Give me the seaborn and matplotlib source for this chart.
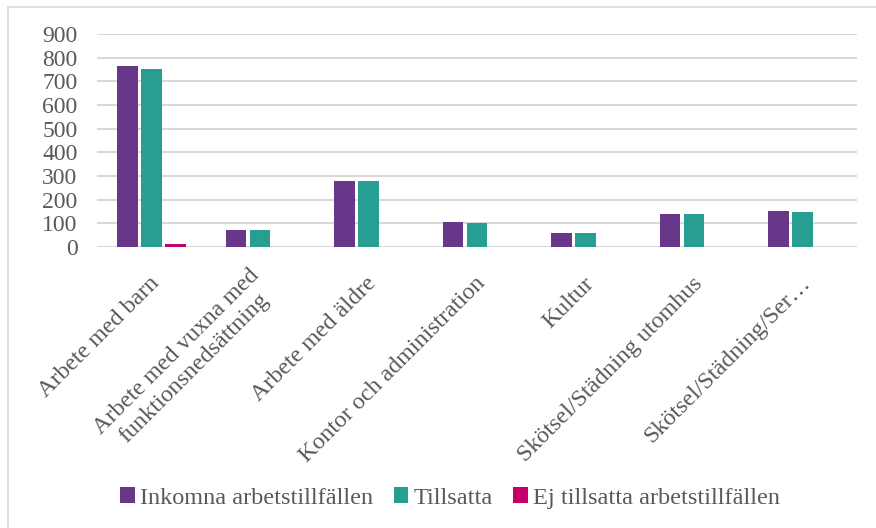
import pandas as pd
import seaborn as sns
from matplotlib import pyplot as plt
from matplotlib.patches import Rectangle
from matplotlib.transforms import ScaledTranslation

# Värden
kategorier = ['Arbete med barn', 'Arbete med vuxna med\nfunktionsnedsättning', 'Arbete med äldre',
              'Kontor och administration', 'Kultur', 'Skötsel/Städning utomhus', 'Skötsel/Städning/Ser…']
inkomna = [765, 72, 277, 107, 60, 141, 154]
tillsatta = [752, 72, 277, 103, 60, 141, 150]
ej_tillsatta = [12, 0, 0, 0, 0, 0, 0]
serier = ['Inkomna arbetstillfällen', 'Tillsatta', 'Ej tillsatta arbetstillfällen']
farger = ['#68378a', '#279e92', '#c6006a']
y_ticks = [0, 100, 200, 300, 400, 500, 600, 700, 800, 900]

rows = []
for serie, values in zip(serier, [inkomna, tillsatta, ej_tillsatta]):
    for kat, v in zip(kategorier, values):
        rows.append({'kategori': kat, 'serie': serie, 'antal': v})
df = pd.DataFrame(rows)

sns.set_style('white')
plt.rcParams['font.family'] = ['Liberation Serif', 'DejaVu Serif']
text_color = '#595959'

fig = plt.figure(figsize=(8.76, 5.28), dpi=100)
ax = fig.add_axes([97 / 876, 1 - 247 / 528, (857 - 97) / 876, (247 - 34) / 528])

sns.barplot(data=df, x='kategori', y='antal', hue='serie', hue_order=serier,
            palette=farger, width=0.663, gap=0.14, ax=ax, saturation=1, linewidth=0,
            legend=True)

ax.set_ylim(0, 900)
ax.set_xlim(-0.5, len(kategorier) - 0.5)
ax.set_yticks(y_ticks)
ax.yaxis.grid(True, color='#d9d9d9', linewidth=1.5)
ax.set_axisbelow(True)
for s in ax.spines.values():
    s.set_visible(False)
ax.set_xlabel('')
ax.set_ylabel('')
ax.tick_params(axis='y', length=0, pad=14, labelsize=17, labelcolor=text_color)
ax.tick_params(axis='x', length=0, pad=24)
ax.set_xticks(range(len(kategorier)))
ax.set_xticklabels(kategorier, rotation=45, ha='right', va='center', rotation_mode='anchor',
                   fontsize=17.3, color=text_color, multialignment='center')
# skjut etiketterna lite åt höger, som i Excel
offset = ScaledTranslation(5 / 100, 0, fig.dpi_scale_trans)
for lbl in ax.get_xticklabels():
    lbl.set_transform(lbl.get_transform() + offset)

handles, labels = ax.get_legend_handles_labels()
ax.legend_.remove()
fig.legend(handles, labels, loc='center', bbox_to_anchor=(450 / 876, 1 - 498 / 528), ncol=3,
           frameon=False, handlelength=0.6, handleheight=0.6, handletextpad=0.2,
           columnspacing=0.85, prop={'size': 17.5}, labelcolor=text_color)

fig.add_artist(Rectangle((8 / 876, -0.1), 1.2, 1.1 - 7 / 528, transform=fig.transFigure,
                         fill=False, edgecolor='#d9d9d9', linewidth=1.2))

plt.savefig('out.png', dpi=100)
